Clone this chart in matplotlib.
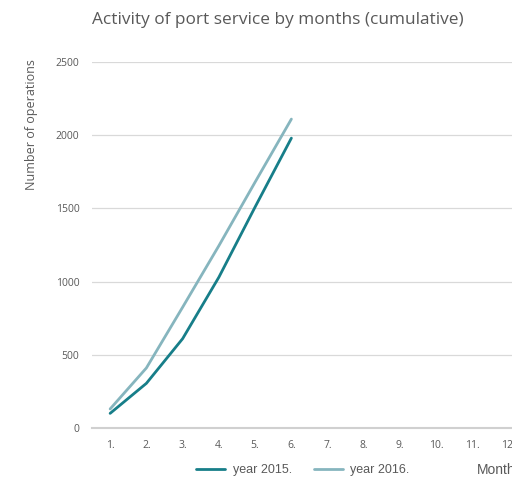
import matplotlib.pyplot as plt

months = [1, 2, 3, 4, 5, 6, 7, 8, 9, 10, 11, 12]
month_labels = ['1.', '2.', '3.', '4.', '5.', '6.', '7.', '8.', '9.', '10.', '11.', '12.']
ops_2015 = [100, 305, 610, 1030, 1510, 1980]
ops_2016 = [130, 410, 825, 1245, 1680, 2110]

W, H = 512, 478
fig = plt.figure(figsize=(W / 100, H / 100), dpi=100)
# the plot area runs past the right edge, as in the original screenshot
ax = fig.add_axes([92 / W, (H - 428) / H, (527 - 92) / W, (428 - 62) / H])

ax.plot(months[:6], ops_2015, color='#177e89', lw=2.0, label='year 2015.', solid_capstyle='round')
ax.plot(months[:6], ops_2016, color='#86b5be', lw=2.0, label='year 2016.', solid_capstyle='round')

ax.set_xlim(0.5, 12.5)
ax.set_ylim(0, 2500)
ax.set_yticks([0, 500, 1000, 1500, 2000, 2500])
ax.set_xticks(months)
ax.set_xticklabels(month_labels)
ax.grid(axis='y', color='#d9d9d9', lw=0.9)
ax.set_axisbelow(True)
for s in ['top', 'right', 'left']:
    ax.spines[s].set_visible(False)
ax.spines['bottom'].set_color('#d0d0d0')
ax.spines['bottom'].set_linewidth(1.5)
ax.tick_params(length=0, labelsize=7.5, labelcolor='#595959', pad=9)
for t in ax.get_xticklabels() + ax.get_yticklabels():
    t.set_fontfamily('Open Sans')

fig.text(278 / W, 1 - 20 / H, 'Activity of port service by months (cumulative)',
         ha='center', va='center', fontsize=12.4, color='#595959', fontfamily='Open Sans')
fig.text(32 / W, 1 - 125 / H, 'Number of operations', rotation=90,
         ha='center', va='center', fontsize=9, color='#595959', fontfamily='Open Sans')
fig.text(477 / W, 1 - 470 / H, 'Month', ha='left', va='center',
         fontsize=10, color='#595959', fontfamily='Liberation Sans')

fig.legend(loc='center', bbox_to_anchor=(303 / W, 1 - 470 / H), ncol=2, frameon=False,
           prop={'family': 'Liberation Sans', 'size': 9}, labelcolor='#595959',
           handlelength=2.3, columnspacing=1.8, handletextpad=0.6)

fig.savefig('out.png', dpi=100)
